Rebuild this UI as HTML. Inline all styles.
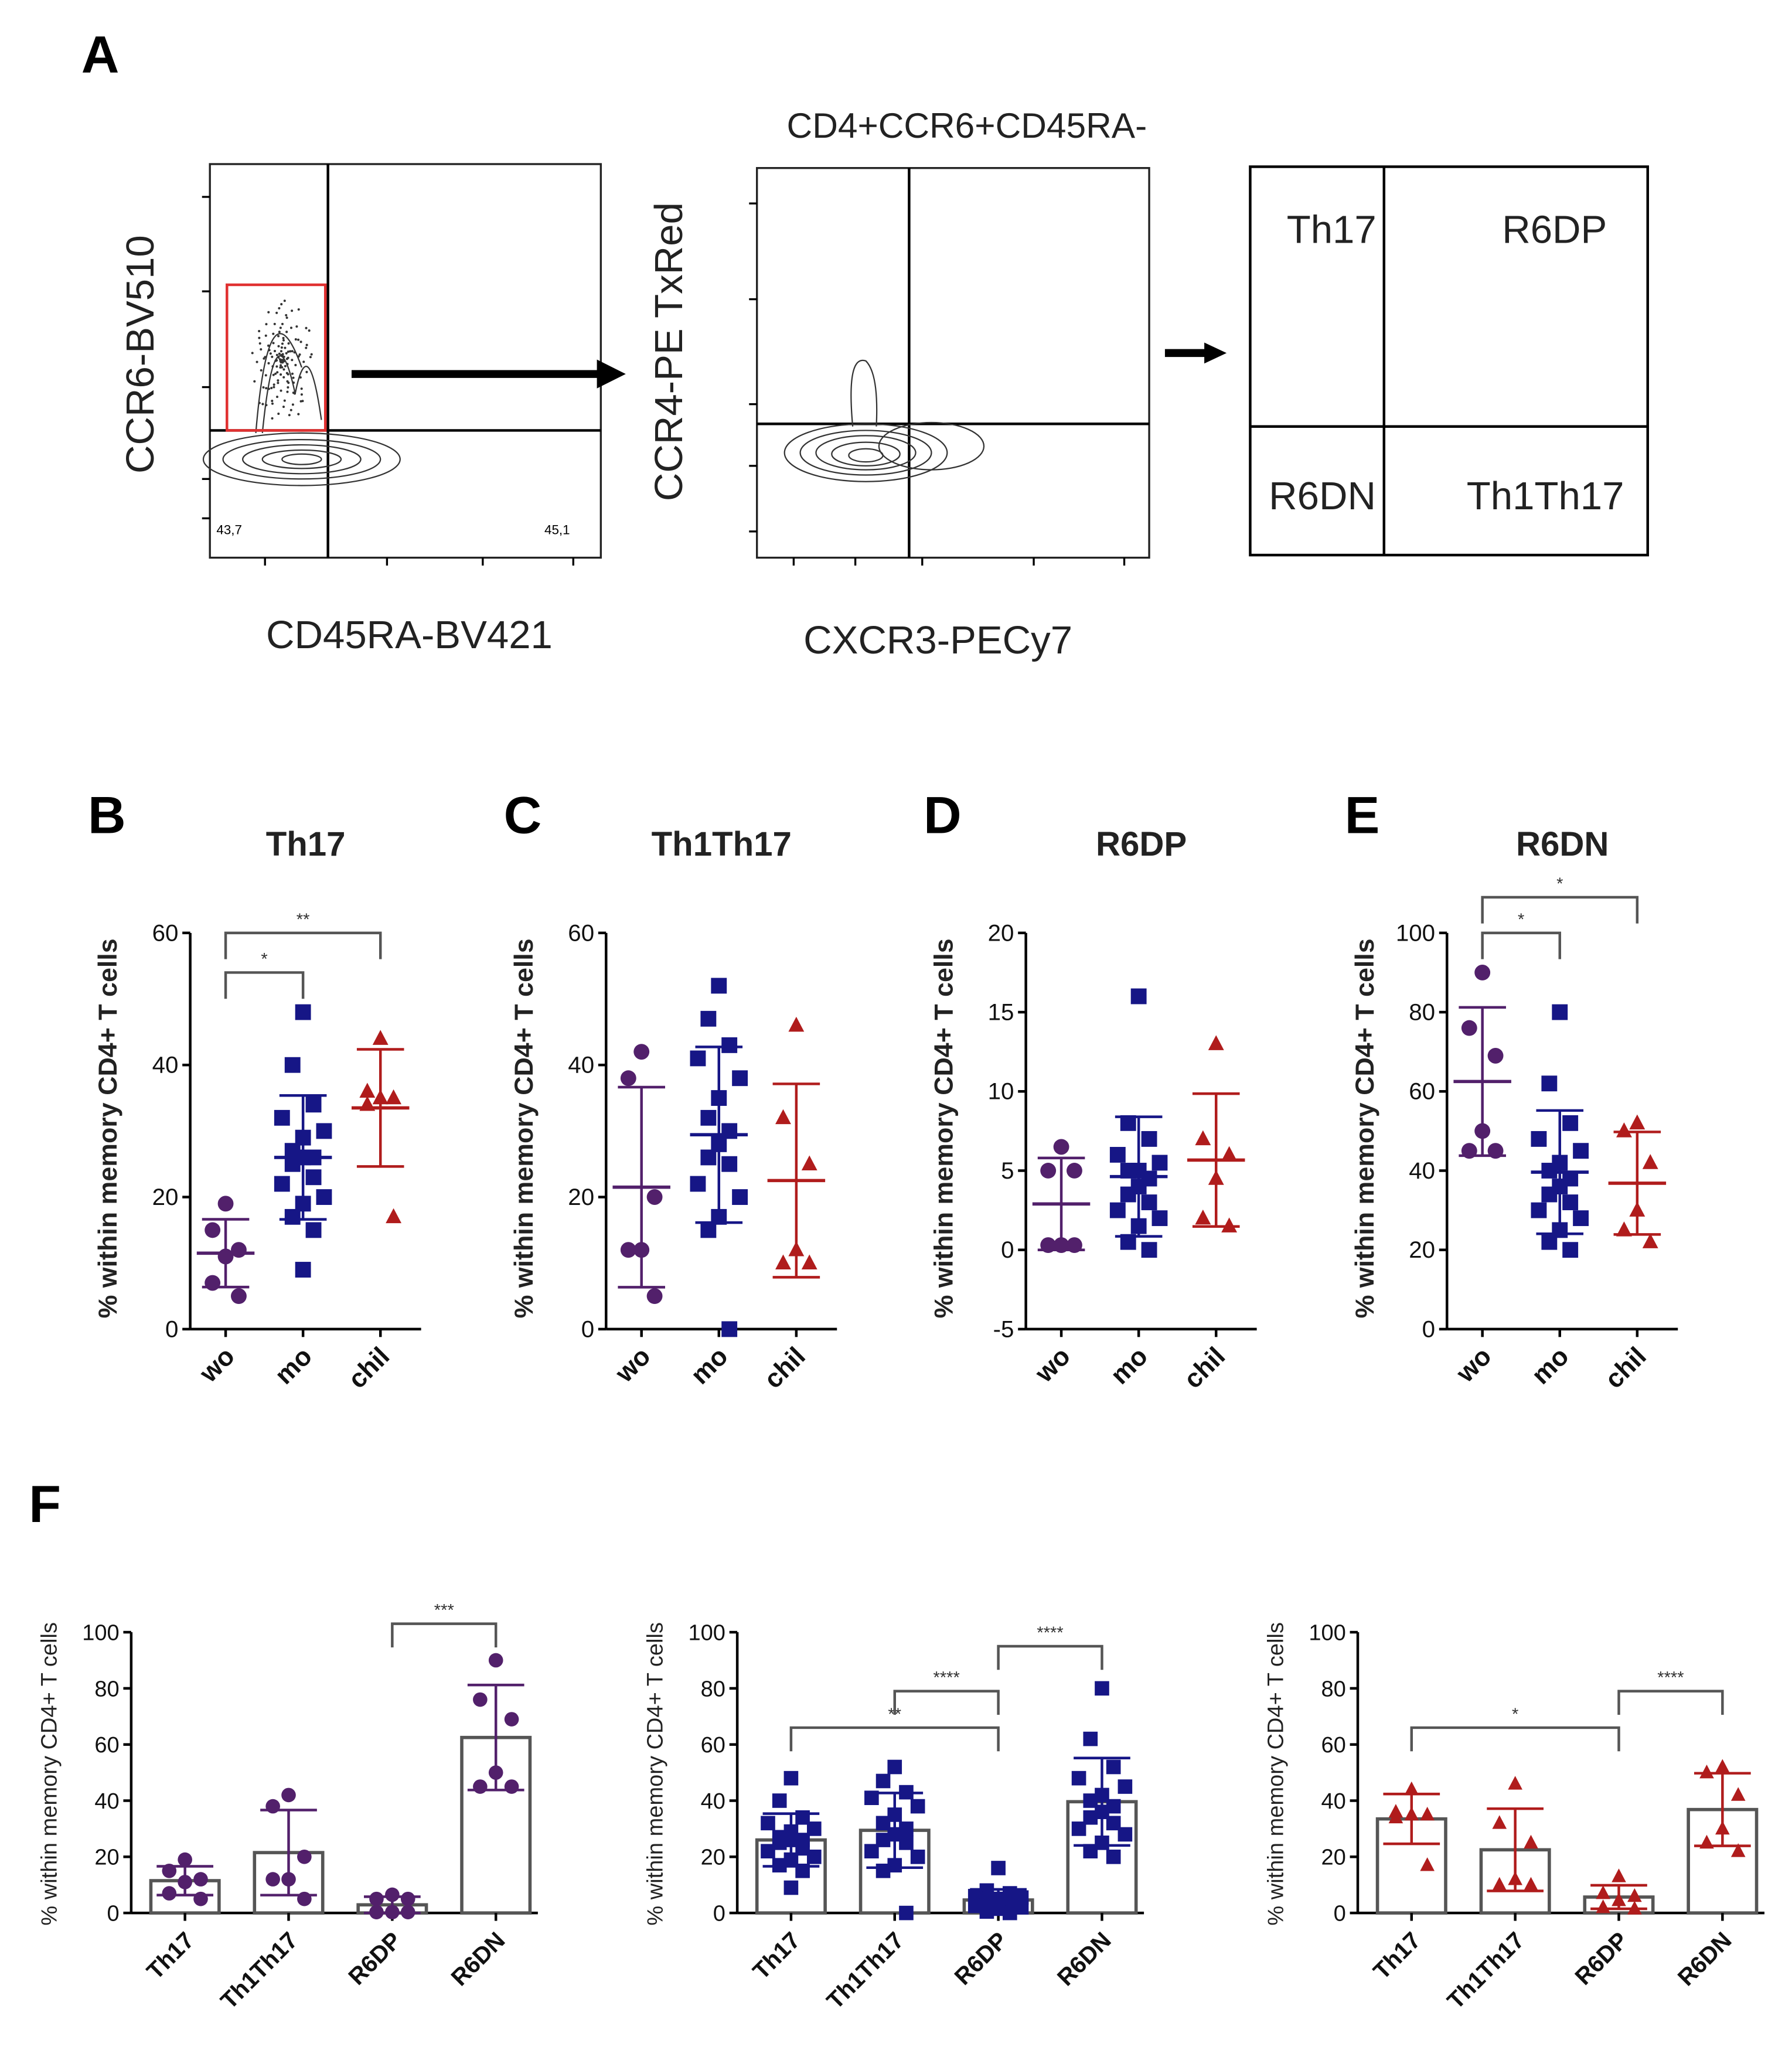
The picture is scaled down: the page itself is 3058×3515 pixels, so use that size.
<!DOCTYPE html>
<html><head><meta charset="utf-8"><style>
html,body{margin:0;padding:0;background:#fff;}
svg{display:block;font-family:"Liberation Sans",Arial,sans-serif;}
</style></head><body>
<svg id="fig" xmlns="http://www.w3.org/2000/svg" width="3058" height="3515" viewBox="0 0 1366 1570">
<rect width="1366" height="1570" fill="#fff"/>
<g font-family="Liberation Sans, Arial, sans-serif">
<text x="62" y="55" font-size="40" font-weight="bold">A</text>
<g>
<rect x="160" y="125" width="298" height="300" fill="none" stroke="#222" stroke-width="1.5"/>
<line x1="250" y1="125" x2="250" y2="425" stroke="#000" stroke-width="2"/>
<line x1="160" y1="328" x2="458" y2="328" stroke="#000" stroke-width="2"/>
<g fill="none" stroke="#333" stroke-width="1">
<ellipse cx="230" cy="350" rx="75" ry="20"/><ellipse cx="230" cy="350" rx="60" ry="15"/><ellipse cx="230" cy="350" rx="45" ry="11"/><ellipse cx="230" cy="350" rx="30" ry="7"/><ellipse cx="230" cy="350" rx="15" ry="4"/>
<path d="M200 330 Q210 230 225 300 Q235 250 245 320"/><path d="M195 330 Q205 210 230 280"/>
</g>
<g id="scatterA" fill="#333"></g>
<g stroke="#000" stroke-width="1.5" id="ticksA"></g>
<rect x="173" y="217" width="75" height="111" fill="none" stroke="#e03030" stroke-width="2"/>
<text x="165" y="407" font-size="10">43,7</text><text x="415" y="407" font-size="10">45,1</text>
<text transform="translate(117,270) rotate(-90)" text-anchor="middle" font-size="30" fill="#222">CCR6-BV510</text>
<text x="312" y="494" text-anchor="middle" font-size="30" fill="#222">CD45RA-BV421</text>
</g>
<g><line x1="268" y1="285" x2="458" y2="285" stroke="#000" stroke-width="6"/><polygon points="455,274 477,285 455,296" fill="#000"/></g>
<text x="737" y="105" text-anchor="middle" font-size="27" fill="#222">CD4+CCR6+CD45RA-</text>
<g>
<rect x="577" y="128" width="299" height="297" fill="none" stroke="#222" stroke-width="1.5"/>
<line x1="693" y1="128" x2="693" y2="425" stroke="#000" stroke-width="2"/>
<line x1="577" y1="323" x2="876" y2="323" stroke="#000" stroke-width="2"/>
<g fill="none" stroke="#333" stroke-width="1">
<ellipse cx="660" cy="345" rx="62" ry="22"/><ellipse cx="660" cy="345" rx="50" ry="17"/><ellipse cx="660" cy="345" rx="38" ry="13"/><ellipse cx="660" cy="346" rx="26" ry="9"/><ellipse cx="660" cy="347" rx="13" ry="5"/>
<path d="M650 325 Q645 270 660 275 Q670 285 668 325"/><ellipse cx="710" cy="340" rx="40" ry="18"/>
</g>
<g stroke="#000" stroke-width="1.5" id="ticksB"></g>
<text transform="translate(520,268) rotate(-90)" text-anchor="middle" font-size="30" fill="#222">CCR4-PE TxRed</text>
<text x="715" y="498" text-anchor="middle" font-size="30" fill="#222">CXCR3-PECy7</text>
</g>
<g><line x1="888" y1="269" x2="920" y2="269" stroke="#000" stroke-width="6"/><polygon points="918,261 935,269 918,277" fill="#000"/></g>
<g font-size="30" fill="#222">
<rect x="953" y="127" width="303" height="296" fill="none" stroke="#000" stroke-width="2"/>
<line x1="1055" y1="127" x2="1055" y2="423" stroke="#000" stroke-width="2"/>
<line x1="953" y1="325" x2="1256" y2="325" stroke="#000" stroke-width="2"/>
<text x="1015" y="185" text-anchor="middle">Th17</text>
<text x="1185" y="185" text-anchor="middle">R6DP</text>
<text x="1008" y="388" text-anchor="middle">R6DN</text>
<text x="1178" y="388" text-anchor="middle">Th1Th17</text>
</g>
</g>
<g id="charts"></g>
</svg>
<script>
const groups = ["wo", "mo", "chil"];
const subsets = ["Th17", "Th1Th17", "R6DP", "R6DN"];
const th17Wo = [19, 15, 12, 11, 7, 5];
const th17Mo = [48, 40, 34, 32, 30, 29, 27, 26, 26, 25, 23, 22, 20, 19, 17, 15, 9];
const th17Chil = [44, 36, 35, 35, 34, 17];
const th1th17Wo = [42, 38, 20, 12, 12, 5];
const th1th17Mo = [52, 47, 43, 41, 38, 35, 32, 30, 28, 26, 25, 22, 20, 17, 15, 0];
const th1th17Chil = [46, 32, 25, 12, 10, 10];
const r6dpWo = [6.5, 5, 5, 0.3, 0.3, 0.3];
const r6dpMo = [16, 8, 7, 6, 5.5, 5, 5, 4.5, 4, 3.5, 3, 2.5, 2, 1.5, 0.5, 0];
const r6dpChil = [13, 7, 6, 4.5, 2, 1.5];
const r6dnWo = [90, 76, 69, 50, 45, 45];
const r6dnMo = [80, 62, 52, 48, 45, 42, 40, 38, 36, 34, 32, 30, 28, 25, 22, 20];
const r6dnChil = [52, 50, 42, 30, 25, 22];
const tickB = [0, 20, 40, 60];
const tickD = [-5, 0, 5, 10, 15, 20];
const tickE = [0, 20, 40, 60, 80, 100];
const sigB = [["wo", "mo", 54, "*"], ["wo", "chil", 60, "**"]];
const sigE = [["wo", "mo", 100, "*"], ["wo", "chil", 109, "*"]];
const sigF1 = [["R6DP", "R6DN", 103, "***"]];
const sigF2 = [["Th17", "R6DP", 66, "**"], ["Th1Th17", "R6DP", 79, "****"], ["R6DP", "R6DN", 95, "****"]];
const sigF3 = [["Th17", "R6DP", 66, "*"], ["R6DP", "R6DN", 79, "****"]];

const NS = "http://www.w3.org/2000/svg";
const root = document.getElementById("charts");
const colors = ["#52206b", "#161686", "#b01c1c"];
const shapes = ["circle", "square", "triangle"];
function mk(tag, attrs, parent) {
  const e = document.createElementNS(NS, tag);
  for (const k in attrs) e.setAttribute(k, attrs[k]);
  (parent || root).appendChild(e);
  return e;
}
// decorative flow scatter & ticks
(function(){
  const sc = document.getElementById("scatterA");
  for (let i = 0; i < 140; i++) {
    const a = (i * 137.5) % 360, r = (i * 7.3) % 40;
    const x = 215 + Math.cos(a) * r * 0.6, y = 275 + Math.sin(a) * r * 1.2;
    mk("circle", {cx: x.toFixed(1), cy: y.toFixed(1), r: 0.9}, sc);
  }
  const tA = document.getElementById("ticksA"), tB = document.getElementById("ticksB");
  [150, 222, 295, 365, 395].forEach(y => mk("line", {x1: 154, y1: y, x2: 160, y2: y}, tA));
  [202, 295, 368, 437].forEach(x => mk("line", {x1: x, y1: 425, x2: x, y2: 431}, tA));
  [155, 228, 308, 355, 405].forEach(y => mk("line", {x1: 571, y1: y, x2: 577, y2: y}, tB));
  [605, 652, 703, 788, 857].forEach(x => mk("line", {x1: x, y1: 425, x2: x, y2: 431}, tB));
})();
function mean(a) { return a.reduce((s, v) => s + v, 0) / a.length; }
function sd(a) { const m = mean(a); return Math.sqrt(a.reduce((s, v) => s + (v - m) * (v - m), 0) / (a.length - 1)); }
function marker(g, shape, x, y, col, r) {
  let e;
  if (shape === "circle") e = mk("circle", {cx: x, cy: y, r: r, fill: col}, g);
  else if (shape === "square") e = mk("rect", {x: x - r, y: y - r, width: 2 * r, height: 2 * r, fill: col}, g);
  else e = mk("polygon", {points: `${x},${y - r * 1.1} ${x + r},${y + r * 0.8} ${x - r},${y + r * 0.8}`, fill: col}, g);
  return e;
}
function jitter(i, n) {
  const pat = [0, -1, 1, -2, 2, 0, -1, 1];
  return n > 8 ? pat[i % pat.length] * 8 : pat[i % 3] * 10;
}
function yTitle(g, x, cy, size, bold) {
  const t = mk("text", {transform: `translate(${x},${cy}) rotate(-90)`, "text-anchor": "middle", "font-size": size, "font-weight": bold ? "bold" : "normal", fill: "#222"}, g);
  t.textContent = "% within memory CD4+ T cells";
  
  
}
function axis(g, ax, xEnd, y0, y1, min, max, ticks, fs) {
  const Y = v => y0 - (v - min) / (max - min) * (y0 - y1);
  mk("line", {x1: ax, y1: y1, x2: ax, y2: y0, stroke: "#000", "stroke-width": 2}, g);
  const zero = min < 0 ? Y(min) : Y(0);
  const xl = mk("line", {x1: ax, y1: zero, x2: xEnd, y2: zero, stroke: "#000", "stroke-width": 2}, g);
  
  
  ticks.forEach(t => {
    mk("line", {x1: ax - 6, y1: Y(t), x2: ax, y2: Y(t), stroke: "#000", "stroke-width": 2}, g);
    const tx = mk("text", {x: ax - 9, y: Y(t) + 6, "text-anchor": "end", "font-size": fs, fill: "#111"}, g);
    tx.textContent = t;
    
    
  });
  return Y;
}
function catLabel(g, x, y, text, fs) {
  mk("line", {x1: x, y1: y, x2: x, y2: y + 6, stroke: "#000", "stroke-width": 2}, g);
  const t = mk("text", {transform: `translate(${x + 8},${y + 22}) rotate(-45)`, "text-anchor": "end", "font-size": fs, "font-weight": "bold", fill: "#111"}, g);
  t.textContent = text;
  
  
}
function bracket(g, xa, xb, y, yLowA, yLowB, label) {
  const p = mk("path", {d: `M${xa},${yLowA} V${y} H${xb} V${yLowB}`, fill: "none", stroke: "#555", "stroke-width": 2}, g);
  
  
  const t = mk("text", {x: (xa + xb) / 2, y: y - 6, "text-anchor": "middle", "font-size": 13, fill: "#333"}, g);
  t.textContent = label;
  
  
}
function errbar(g, x, m, s, Y, col, hw) {
  mk("line", {x1: x, y1: Y(m + s), x2: x, y2: Y(m - s), stroke: col, "stroke-width": 2}, g);
  mk("line", {x1: x - hw * 0.6, y1: Y(m + s), x2: x + hw * 0.6, y2: Y(m + s), stroke: col, "stroke-width": 2}, g);
  mk("line", {x1: x - hw * 0.6, y1: Y(m - s), x2: x + hw * 0.6, y2: Y(m - s), stroke: col, "stroke-width": 2}, g);
}

const dotPanels = [
  {letter: "B", title: "Th17", ax: 145, data: [th17Wo, th17Mo, th17Chil], min: 0, max: 60, ticks: tickB, sig: sigB},
  {letter: "C", title: "Th1Th17", ax: 462, data: [th1th17Wo, th1th17Mo, th1th17Chil], min: 0, max: 60, ticks: tickB, sig: []},
  {letter: "D", title: "R6DP", ax: 782, data: [r6dpWo, r6dpMo, r6dpChil], min: -5, max: 20, ticks: tickD, sig: []},
  {letter: "E", title: "R6DN", ax: 1103, data: [r6dnWo, r6dnMo, r6dnChil], min: 0, max: 100, ticks: tickE, sig: sigE}
];
dotPanels.forEach(P => {
  const g = mk("g", {});
  
  
  const L = mk("text", {x: P.ax - 78, y: 635, "font-size": 40, "font-weight": "bold"}, g);
  L.textContent = P.letter;
  
  
  const T = mk("text", {x: P.ax + 88, y: 652, "text-anchor": "middle", "font-size": 26, "font-weight": "bold", fill: "#222"}, g);
  T.textContent = P.title;
  
  
  yTitle(g, P.ax - 56, 860, 20, true);
  const Y = axis(g, P.ax, P.ax + 176, 1013, 711, P.min, P.max, P.ticks, 18);
  const X = i => P.ax + 27 + i * 59;
  const xOf = name => X(groups.indexOf(name));
  P.data.forEach((arr, gi) => {
    const col = colors[gi];
    catLabel(g, X(gi), 1013, groups[gi], 20);
    arr.forEach((v, i) => {
      const m = marker(g, shapes[gi], X(gi) + jitter(i, arr.length), Y(v), col, 6);
      
      
    });
    const m = mean(arr), s = sd(arr);
    errbar(g, X(gi), m, s, Y, col, 30);
    const ml = mk("line", {x1: X(gi) - 22, y1: Y(m), x2: X(gi) + 22, y2: Y(m), stroke: col, "stroke-width": 2.5}, g);
    
    
  });
  P.sig.forEach(sg => {
    const y = Y(sg[2]);
    bracket(g, xOf(sg[0]), xOf(sg[1]), y, y + 20, y + 20, sg[3]);
  });
});

const Fl = mk("text", {x: 22, y: 1160, "font-size": 40, "font-weight": "bold"});
Fl.textContent = "F";


const fPanels = [
  {ax: 100, gi: 0, data: [th17Wo, th1th17Wo, r6dpWo, r6dnWo], sig: sigF1},
  {ax: 562, gi: 1, data: [th17Mo, th1th17Mo, r6dpMo, r6dnMo], sig: sigF2},
  {ax: 1035, gi: 2, data: [th17Chil, th1th17Chil, r6dpChil, r6dnChil], sig: sigF3}
];
fPanels.forEach((P, pi) => {
  const g = mk("g", {});
  
  
  yTitle(g, P.ax - 57, 1352, 17, false);
  const Y = axis(g, P.ax, P.ax + 310, 1458, 1244, 0, 100, tickE, 17);
  const X = i => P.ax + 41 + i * 79;
  const col = colors[P.gi];
  P.data.forEach((arr, i) => {
    const m = mean(arr), s = sd(arr);
    const b = mk("rect", {x: X(i) - 26, y: Y(m), width: 52, height: Y(0) - Y(m), fill: "#fff", stroke: "#555", "stroke-width": 2.5}, g);
    
    
    catLabel(g, X(i), 1458, subsets[i], 18);
    arr.forEach((v, j) => {
      const mm = marker(g, shapes[P.gi], X(i) + jitter(j, arr.length) * (arr.length > 8 ? 1.1 : 1.2), Y(v), col, 5.5);
      
      
    });
    errbar(g, X(i), m, s, Y, col, 36);
  });
  P.sig.forEach(sg => {
    const y = Y(sg[2]);
    bracket(g, X(subsets.indexOf(sg[0])), X(subsets.indexOf(sg[1])), y, y + 18, y + 18, sg[3]);
  });
});
</script>
</body></html>
